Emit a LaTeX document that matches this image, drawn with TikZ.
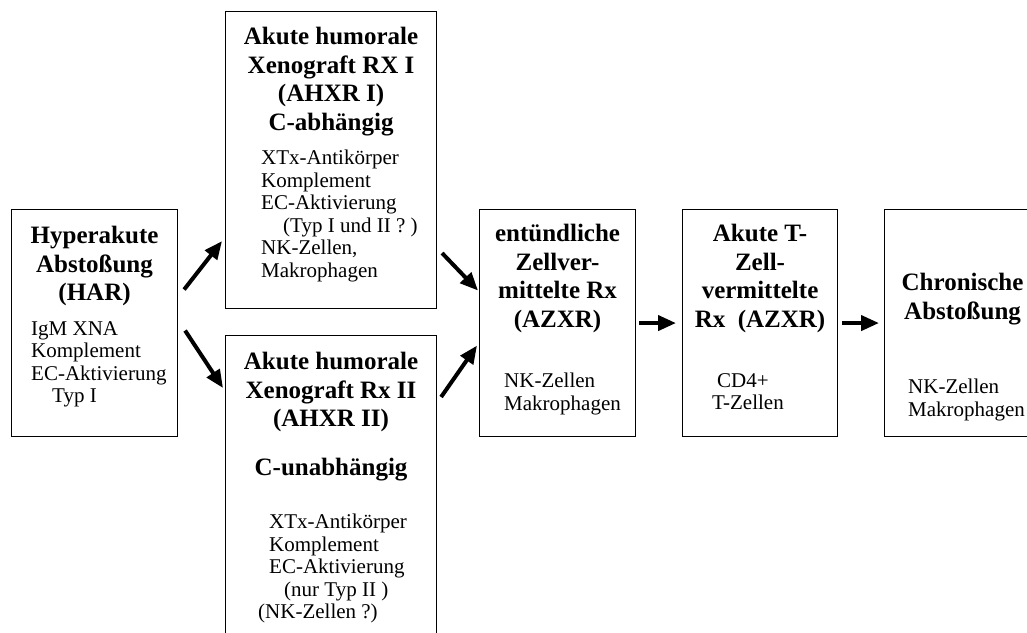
\documentclass[tikz,border=0pt]{standalone}
\usepackage{fontspec}
\setmainfont{Liberation Serif}
\usetikzlibrary{positioning,arrows.meta}

\begin{document}
\begin{tikzpicture}[x=1pt, y=-1pt,
  box/.style={draw, rectangle, line width=1.1pt, anchor=north west, inner sep=0pt},
  title/.style={align=center, inner sep=0pt, font=\fontsize{25}{28.5}\selectfont\bfseries},
  note/.style={align=left, inner sep=0pt, font=\fontsize{21}{22.5}\selectfont},
  arr/.style={-{Triangle[length=18pt,width=15pt]}, line width=4pt}]
\useasboundingbox (0,0) rectangle (1027,632);
\clip (0,0) rectangle (1027,632);

% Kästen
\node[box, minimum width=166pt, minimum height=227pt] (har) at (11,209) {};
\node[box, minimum width=211pt, minimum height=297pt] (ahxr1) at (225,11) {};
\node[box, minimum width=211pt, minimum height=320pt] (ahxr2) at (225,335) {};
\node[box, minimum width=156pt, minimum height=227pt] (azxr) at (479,209) {};
\node[box, minimum width=155pt, minimum height=227pt] (tzell) at (682,209) {};
\node[box, minimum width=156pt, minimum height=227pt] (chron) at (884,209) {};

% Texte
\node[title, below=17pt of har.north] (har-t) {Hyperakute\\Abstoßung\\(HAR)};
\node[note, below right=112pt and 20pt of har.north west] (har-n)
  {IgM XNA\\Komplement\\EC-Aktivierung\\\hspace*{21pt}Typ I};

\node[title, below=16pt of ahxr1.north] (ahxr1-t)
  {Akute humorale\\Xenograft RX I\\(AHXR I)\\C-abhängig};
\node[note, below right=139pt and 36pt of ahxr1.north west] (ahxr1-n)
  {XTx-Antikörper\\Komplement\\EC-Aktivierung\\\hspace*{22pt}(Typ I und II ? )\\NK-Zellen,\\Makrophagen};

\node[title, below=17pt of ahxr2.north] (ahxr2-t)
  {Akute humorale\\Xenograft Rx II\\(AHXR II)\\[20pt]C-unabhängig};
\node[note, below right=179pt and 33pt of ahxr2.north west] (ahxr2-n)
  {\hspace*{11pt}XTx-Antikörper\\\hspace*{11pt}Komplement\\\hspace*{11pt}EC-Aktivierung\\\hspace*{26pt}(nur Typ II )\\(NK-Zellen ?)};

\node[title, below=15pt of azxr.north] (azxr-t)
  {entündliche\\Zellver-\\mittelte Rx\\(AZXR)};
\node[note, below right=164pt and 25pt of azxr.north west] (azxr-n)
  {NK-Zellen\\Makrophagen};

\node[title, below=15pt of tzell.north] (tzell-t)
  {Akute T-\\Zell-\\vermittelte\\Rx\ \ (AZXR)};
\node[note, below right=164pt and 30pt of tzell.north west] (tzell-n)
  {\hspace*{5pt}CD4+\\T-Zellen};

\node[title, below=64pt of chron.north] (chron-t) {Chronische\\Abstoßung};
\node[note, below right=170pt and 24pt of chron.north west] (chron-n)
  {NK-Zellen\\Makrophagen};

% Pfeile
\draw[arr] ([shift={(6,-33.5)}]har.east) -- ([shift={(-3,-68)}]ahxr1.south west);
\draw[arr] ([shift={(7,7.5)}]har.east) -- ([shift={(-2,53)}]ahxr2.north west);
\draw[arr] ([shift={(5,-56)}]ahxr1.south east) -- ([shift={(-1,-32.5)}]azxr.west);
\draw[arr] ([shift={(4,62)}]ahxr2.north east) -- ([shift={(-2,22.5)}]azxr.west);
\draw[arr] ([shift={(3,0)}]azxr.east) -- ([shift={(-6,0)}]tzell.west);
\draw[arr] ([shift={(4,0)}]tzell.east) -- ([shift={(-5,0)}]chron.west);
\end{tikzpicture}
\end{document}
